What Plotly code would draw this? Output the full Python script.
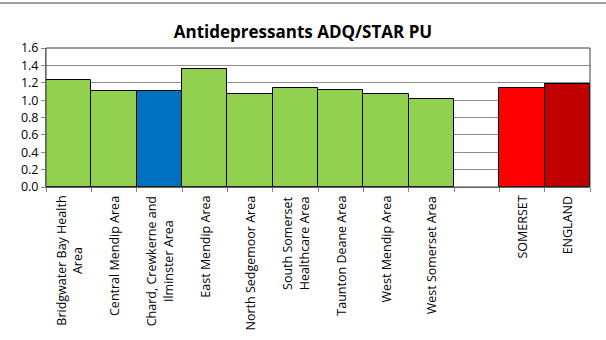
import plotly.graph_objects as go

# Category labels (blank entry keeps a gap before the totals)
categories = [
    "Bridgwater Bay Health<br>Area",
    "Central Mendip Area",
    "Chard, Crewkerne and<br>Ilminster Area",
    "East Mendip Area",
    "North Sedgemoor Area",
    "South Somerset<br>Healthcare Area",
    "Taunton Deane Area",
    "West Mendip Area",
    "West Somerset Area",
    " ",
    "SOMERSET",
    "ENGLAND",
]
values = [1.23, 1.10, 1.10, 1.36, 1.07, 1.135, 1.12, 1.07, 1.01, None, 1.135, 1.19]
colors = ["#92D050", "#92D050", "#0070C0", "#92D050", "#92D050", "#92D050",
          "#92D050", "#92D050", "#92D050", "#FFFFFF", "#FF0000", "#C00000"]
y_ticks = [0.0, 0.2, 0.4, 0.6, 0.8, 1.0, 1.2, 1.4, 1.6]

FONT = "Open Sans"

fig = go.Figure(go.Bar(
    x=categories,
    y=values,
    marker=dict(color=colors, line=dict(color="#000000", width=1)),
    hoverinfo="x+y",
))

# Rotated, centre-aligned category labels below the axis
annotations = [
    dict(x=c, y=0, xref="x", yref="paper", text=c, textangle=-90,
         showarrow=False, yanchor="top", xanchor="center", align="center",
         yshift=-7, font=dict(family=FONT, size=12.5, color="#000000"))
    for c in categories if c.strip()
]

fig.update_layout(
    width=606, height=340,
    margin=dict(l=46, r=16, t=48, b=153),
    paper_bgcolor="white", plot_bgcolor="white",
    bargap=0,
    showlegend=False,
    title=dict(text="<b>Antidepressants ADQ/STAR PU</b>", x=0.5, xanchor="center",
               y=0.905, yanchor="middle",
               font=dict(family=FONT, size=17, color="#000000")),
    font=dict(family=FONT, size=12, color="#000000"),
    annotations=annotations,
    shapes=[dict(type="line", xref="paper", yref="paper", x0=-0.1, x1=1.1,
                 y0=1.324, y1=1.324, line=dict(color="#A0A0A0", width=2))],
)
fig.update_xaxes(
    type="category", showticklabels=False,
    ticks="outside", tickson="boundaries", ticklen=4, tickcolor="#868686",
    showline=True, linecolor="#868686", linewidth=1, mirror=False,
    showgrid=False,
)
fig.update_yaxes(
    range=[0, 1.6], tickvals=y_ticks, ticktext=[f"{v:.1f}" for v in y_ticks],
    ticks="outside", ticklen=4, tickcolor="#868686",
    showline=True, linecolor="#868686", linewidth=1,
    showgrid=True, gridcolor="#8C8C8C", gridwidth=1,
    tickfont=dict(family=FONT, size=12.5),
)
# Dark frame around the plotting area
fig.add_shape(type="rect", xref="paper", yref="paper", x0=0, x1=1, y0=0, y1=1,
              line=dict(color="#404040", width=1), layer="above")

fig.write_html("out.html")
